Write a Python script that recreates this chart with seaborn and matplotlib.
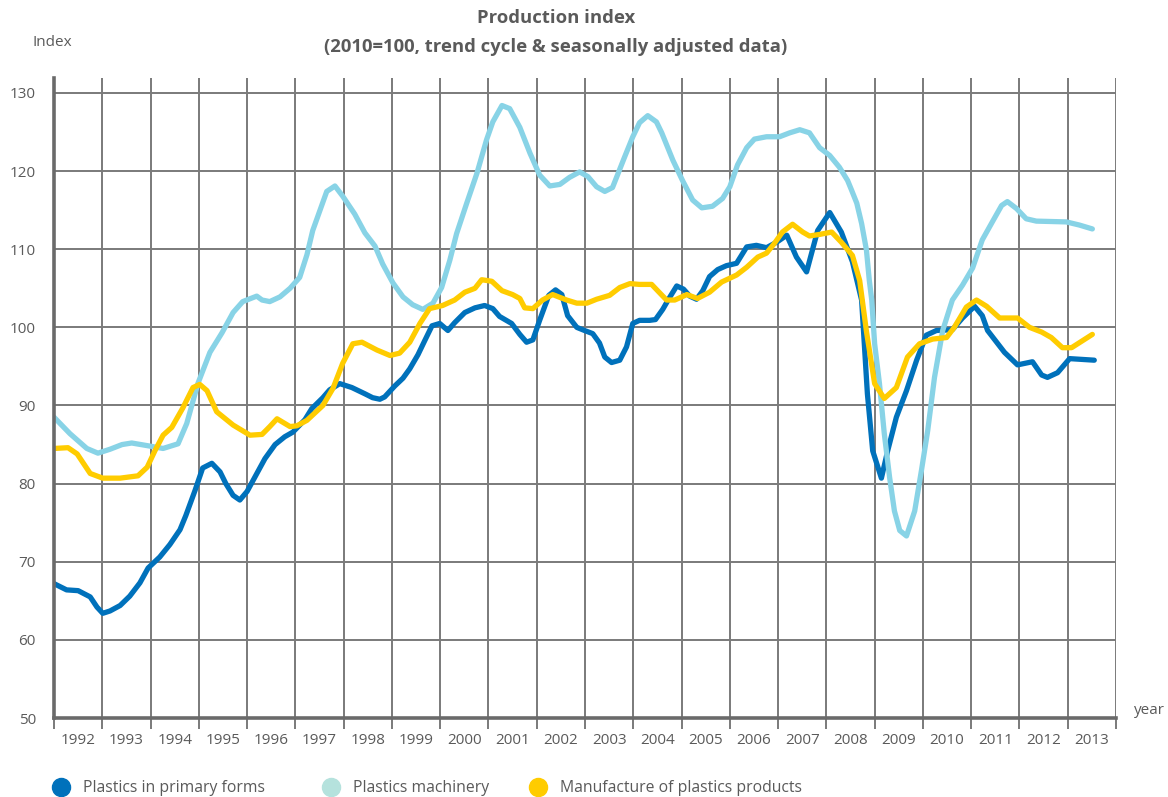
import numpy as np
import pandas as pd
import matplotlib
matplotlib.use("Agg")
import matplotlib.pyplot as plt
from matplotlib.lines import Line2D
from matplotlib.ticker import FixedLocator, NullFormatter, FixedFormatter
import seaborn as sns

# ---------------- data ----------------
primary_years = [1992.00, 1992.26, 1992.50, 1992.75, 1992.89, 1993.01, 1993.16, 1993.37, 1993.57, 1993.78,
                 1993.95, 1994.19, 1994.40, 1994.61, 1994.73, 1994.92, 1995.08, 1995.27, 1995.44, 1995.56,
                 1995.71, 1995.85, 1996.00, 1996.22, 1996.37, 1996.58, 1996.78, 1996.95, 1997.20, 1997.34,
                 1997.57, 1997.71, 1997.92, 1998.17, 1998.44, 1998.60, 1998.75, 1998.85, 1999.06, 1999.23,
                 1999.37, 1999.54, 1999.68, 1999.83, 1999.99, 2000.16, 2000.30, 2000.51, 2000.72, 2000.92,
                 2001.09, 2001.23, 2001.48, 2001.65, 2001.79, 2001.92, 2002.06, 2002.25, 2002.39, 2002.52,
                 2002.64, 2002.83, 2002.99, 2003.16, 2003.30, 2003.41, 2003.55, 2003.72, 2003.86, 2003.99,
                 2004.13, 2004.34, 2004.46, 2004.61, 2004.75, 2004.90, 2005.04, 2005.17, 2005.31, 2005.44,
                 2005.58, 2005.75, 2005.93, 2006.14, 2006.35, 2006.55, 2006.76, 2006.97, 2007.18, 2007.38,
                 2007.59, 2007.82, 2008.07, 2008.31, 2008.54, 2008.73, 2008.85, 2008.96, 2009.14, 2009.27,
                 2009.45, 2009.66, 2009.87, 2010.07, 2010.28, 2010.61, 2010.82, 2011.07, 2011.23, 2011.34,
                 2011.69, 2011.96, 2012.27, 2012.46, 2012.58, 2012.79, 2013.04, 2013.55]
primary_vals = [67.2, 66.4, 66.3, 65.5, 64.2, 63.4, 63.7, 64.4, 65.6, 67.3,
                69.2, 70.6, 72.2, 74.1, 75.9, 79.1, 82.0, 82.6, 81.5, 80.0,
                78.5, 77.9, 79.0, 81.5, 83.2, 85.0, 86.0, 86.6, 88.2, 89.6,
                91.0, 92.0, 92.8, 92.3, 91.5, 91.0, 90.8, 91.1, 92.5, 93.5,
                94.7, 96.5, 98.3, 100.2, 100.5, 99.6, 100.6, 101.9, 102.5, 102.8,
                102.4, 101.4, 100.5, 99.1, 98.1, 98.4, 100.9, 104.1, 104.8, 104.2,
                101.5, 100.0, 99.6, 99.2, 98.0, 96.2, 95.5, 95.8, 97.5, 100.5,
                100.9, 100.9, 101.0, 102.3, 103.8, 105.3, 104.9, 104.0, 103.6, 104.7,
                106.5, 107.4, 107.9, 108.2, 110.3, 110.5, 110.2, 110.9, 111.8, 109.0,
                107.1, 112.4, 114.7, 112.2, 108.4, 103.5, 91.5, 84.2, 80.7, 84.2,
                88.5, 91.9, 95.8, 99.0, 99.6, 99.7, 101.2, 102.7, 101.5, 99.6,
                96.8, 95.2, 95.6, 93.9, 93.6, 94.2, 96.0, 95.8]

machinery_years = [1992.00, 1992.33, 1992.68, 1992.91, 1993.16, 1993.41, 1993.61, 1993.99, 1994.26, 1994.57,
                   1994.75, 1994.98, 1995.23, 1995.48, 1995.71, 1995.91, 1996.20, 1996.31, 1996.47, 1996.68,
                   1996.89, 1997.09, 1997.24, 1997.36, 1997.65, 1997.82, 1997.98, 1998.23, 1998.44, 1998.65,
                   1998.81, 1999.02, 1999.23, 1999.43, 1999.64, 1999.85, 2000.03, 2000.20, 2000.34, 2000.55,
                   2000.76, 2000.96, 2001.09, 2001.28, 2001.44, 2001.65, 2001.86, 2002.06, 2002.27, 2002.48,
                   2002.68, 2002.89, 2003.06, 2003.24, 2003.41, 2003.57, 2003.82, 2003.99, 2004.13, 2004.30,
                   2004.48, 2004.59, 2004.82, 2005.02, 2005.23, 2005.42, 2005.64, 2005.85, 2006.00, 2006.16,
                   2006.35, 2006.51, 2006.76, 2007.03, 2007.24, 2007.45, 2007.65, 2007.86, 2008.07, 2008.27,
                   2008.44, 2008.52, 2008.63, 2008.73, 2008.83, 2008.89, 2008.94, 2009.00, 2009.10, 2009.20,
                   2009.31, 2009.41, 2009.52, 2009.66, 2009.83, 2009.97, 2010.10, 2010.24, 2010.41, 2010.61,
                   2010.82, 2011.03, 2011.23, 2011.42, 2011.63, 2011.75, 2011.94, 2012.14, 2012.35, 2012.97,
                   2013.24, 2013.51]
machinery_vals = [88.5, 86.4, 84.5, 83.9, 84.4, 85.0, 85.2, 84.8, 84.5, 85.1,
                  87.7, 92.8, 96.8, 99.3, 101.9, 103.3, 104.0, 103.5, 103.3, 103.9,
                  105.0, 106.4, 109.3, 112.4, 117.4, 118.1, 116.8, 114.5, 112.1, 110.4,
                  108.1, 105.7, 103.9, 102.9, 102.3, 103.1, 105.1, 108.6, 112.0, 115.9,
                  119.7, 124.0, 126.3, 128.4, 128.0, 125.6, 122.3, 119.5, 118.1, 118.3,
                  119.2, 119.9, 119.3, 118.0, 117.4, 117.9, 121.8, 124.4, 126.2, 127.1,
                  126.3, 124.9, 121.4, 118.8, 116.3, 115.3, 115.5, 116.5, 118.0, 120.8,
                  123.0, 124.1, 124.4, 124.4, 124.9, 125.3, 124.9, 123.0, 122.0, 120.5,
                  118.8, 117.6, 115.9, 113.3, 109.9, 106.0, 103.5, 97.9, 92.8, 86.4,
                  80.8, 76.5, 74.0, 73.3, 76.5, 81.7, 86.8, 93.6, 99.6, 103.5,
                  105.4, 107.6, 111.2, 113.3, 115.6, 116.1, 115.2, 113.9, 113.6, 113.5,
                  113.1, 112.6]

products_years = [1992.00, 1992.29, 1992.48, 1992.75, 1993.01, 1993.37, 1993.74, 1993.93, 1994.09, 1994.26,
                  1994.44, 1994.67, 1994.88, 1995.02, 1995.17, 1995.37, 1995.71, 1996.06, 1996.31, 1996.47,
                  1996.62, 1996.89, 1997.03, 1997.24, 1997.57, 1997.78, 1997.98, 1998.19, 1998.38, 1998.69,
                  1998.96, 1999.16, 1999.37, 1999.58, 1999.78, 2000.05, 2000.30, 2000.51, 2000.72, 2000.86,
                  2001.07, 2001.28, 2001.50, 2001.65, 2001.75, 2001.92, 2002.12, 2002.33, 2002.62, 2002.83,
                  2003.04, 2003.24, 2003.51, 2003.72, 2003.93, 2004.13, 2004.38, 2004.55, 2004.69, 2004.86,
                  2005.11, 2005.33, 2005.58, 2005.83, 2006.14, 2006.35, 2006.58, 2006.76, 2006.93, 2007.09,
                  2007.30, 2007.51, 2007.65, 2007.86, 2008.11, 2008.31, 2008.54, 2008.69, 2008.83, 2009.00,
                  2009.20, 2009.45, 2009.68, 2009.93, 2010.20, 2010.49, 2010.65, 2010.90, 2011.11, 2011.32,
                  2011.59, 2011.96, 2012.21, 2012.46, 2012.66, 2012.89, 2013.08, 2013.51]
products_vals = [84.5, 84.6, 83.8, 81.3, 80.7, 80.7, 81.0, 82.1, 84.2, 86.2,
                 87.2, 89.7, 92.3, 92.7, 91.9, 89.2, 87.5, 86.2, 86.3, 87.3,
                 88.3, 87.3, 87.4, 88.1, 90.0, 92.2, 95.4, 97.9, 98.1, 97.1,
                 96.4, 96.7, 98.1, 100.5, 102.4, 102.8, 103.5, 104.5, 105.0, 106.1,
                 105.9, 104.7, 104.2, 103.7, 102.5, 102.4, 103.5, 104.2, 103.5, 103.1,
                 103.1, 103.6, 104.1, 105.1, 105.6, 105.5, 105.5, 104.4, 103.5, 103.5,
                 104.2, 103.7, 104.5, 105.8, 106.7, 107.7, 109.0, 109.5, 110.8, 112.2,
                 113.2, 112.2, 111.7, 111.9, 112.2, 110.9, 109.2, 106.0, 99.5, 92.8,
                 90.9, 92.3, 96.2, 97.9, 98.5, 98.7, 100.0, 102.6, 103.5, 102.7,
                 101.2, 101.2, 100.0, 99.4, 98.7, 97.4, 97.4, 99.1]

series_names = ["Plastics in primary forms", "Plastics machinery", "Manufacture of plastics products"]
line_colors = ["#0071BB", "#88D3E6", "#FFCC00"]
legend_colors = ["#0071BB", "#B5E2DD", "#FFCC00"]
year_labels = [str(y) for y in range(1992, 2014)]
y_ticks = [50, 60, 70, 80, 90, 100, 110, 120, 130]

df = pd.concat([
    pd.DataFrame({"year": primary_years, "value": primary_vals, "series": series_names[0]}),
    pd.DataFrame({"year": machinery_years, "value": machinery_vals, "series": series_names[1]}),
    pd.DataFrame({"year": products_years, "value": products_vals, "series": series_names[2]}),
], ignore_index=True)

# ---------------- style ----------------
sns.set_style("white")
plt.rcParams["font.family"] = ["Open Sans", "DejaVu Sans"]
text_col = "#5a5a5a"
grid_col = "#7a7a7a"

fig = plt.figure(figsize=(11.68, 7.97), dpi=100)
ax = fig.add_axes([54 / 1168, 1 - 718 / 797, (1116 - 54) / 1168, (718 - 78) / 797])

sns.lineplot(data=df, x="year", y="value", hue="series", hue_order=series_names,
             palette=dict(zip(series_names, line_colors)), linewidth=3.8,
             estimator=None, sort=False, legend=False, ax=ax, zorder=3)

ax.set_xlim(1992, 2014)
ax.set_ylim(50, 131.92)

# grid lines
for yv in y_ticks[1:]:
    ax.axhline(yv, color=grid_col, lw=1.4, zorder=1)
for xv in range(1993, 2015):
    ax.axvline(xv, color=grid_col, lw=1.4, zorder=1)

for s in ["top", "right"]:
    ax.spines[s].set_visible(False)
for s in ["left", "bottom"]:
    ax.spines[s].set_color("#6a6a6a")
    ax.spines[s].set_linewidth(2.6)
    ax.spines[s].set_zorder(4)

ax.xaxis.set_major_locator(FixedLocator(list(range(1992, 2015))))
ax.xaxis.set_major_formatter(NullFormatter())
ax.xaxis.set_minor_locator(FixedLocator([y + 0.5 for y in range(1992, 2014)]))
ax.xaxis.set_minor_formatter(FixedFormatter(year_labels))
ax.tick_params(axis="x", which="major", length=8, width=1.4, color=grid_col, direction="out", bottom=True)
ax.tick_params(axis="x", which="minor", length=0, pad=11, labelsize=11, labelcolor=text_col, bottom=True)

ax.set_yticks(y_ticks)
ax.set_yticklabels([str(v) for v in y_ticks])
ax.tick_params(axis="y", length=0, pad=13, labelsize=11, labelcolor=text_col)
ax.set_xlabel("")
ax.set_ylabel("")

# titles and axis captions
fig.text(0.476, 1 - 18 / 797, "Production index", ha="center", va="center",
         fontsize=13.3, fontweight="bold", color=text_col)
fig.text(0.476, 1 - 47 / 797, "(2010=100, trend cycle & seasonally adjusted data)", ha="center",
         va="center", fontsize=13.3, fontweight="bold", color=text_col)
fig.text(33 / 1168, 1 - 42 / 797, "Index", ha="left", va="center", fontsize=11, color=text_col)
fig.text(1134 / 1168, 1 - 710 / 797, "year", ha="left", va="center", fontsize=11, color=text_col)

# legend (three separate entries positioned like the original)
leg_x = [50 / 1168, 320 / 1168, 527 / 1168]
for name, col, lx in zip(series_names, legend_colors, leg_x):
    h = Line2D([], [], marker="o", linestyle="none", markersize=13, markerfacecolor=col,
               markeredgecolor=col)
    fig.legend([h], [name], loc="center left", bbox_to_anchor=(lx, 1 - 788 / 797), frameon=False,
               fontsize=11.3, labelcolor=text_col, handletextpad=0.7, borderpad=0, borderaxespad=0,
               handlelength=1.4)

fig.savefig("out.png", dpi=100)
